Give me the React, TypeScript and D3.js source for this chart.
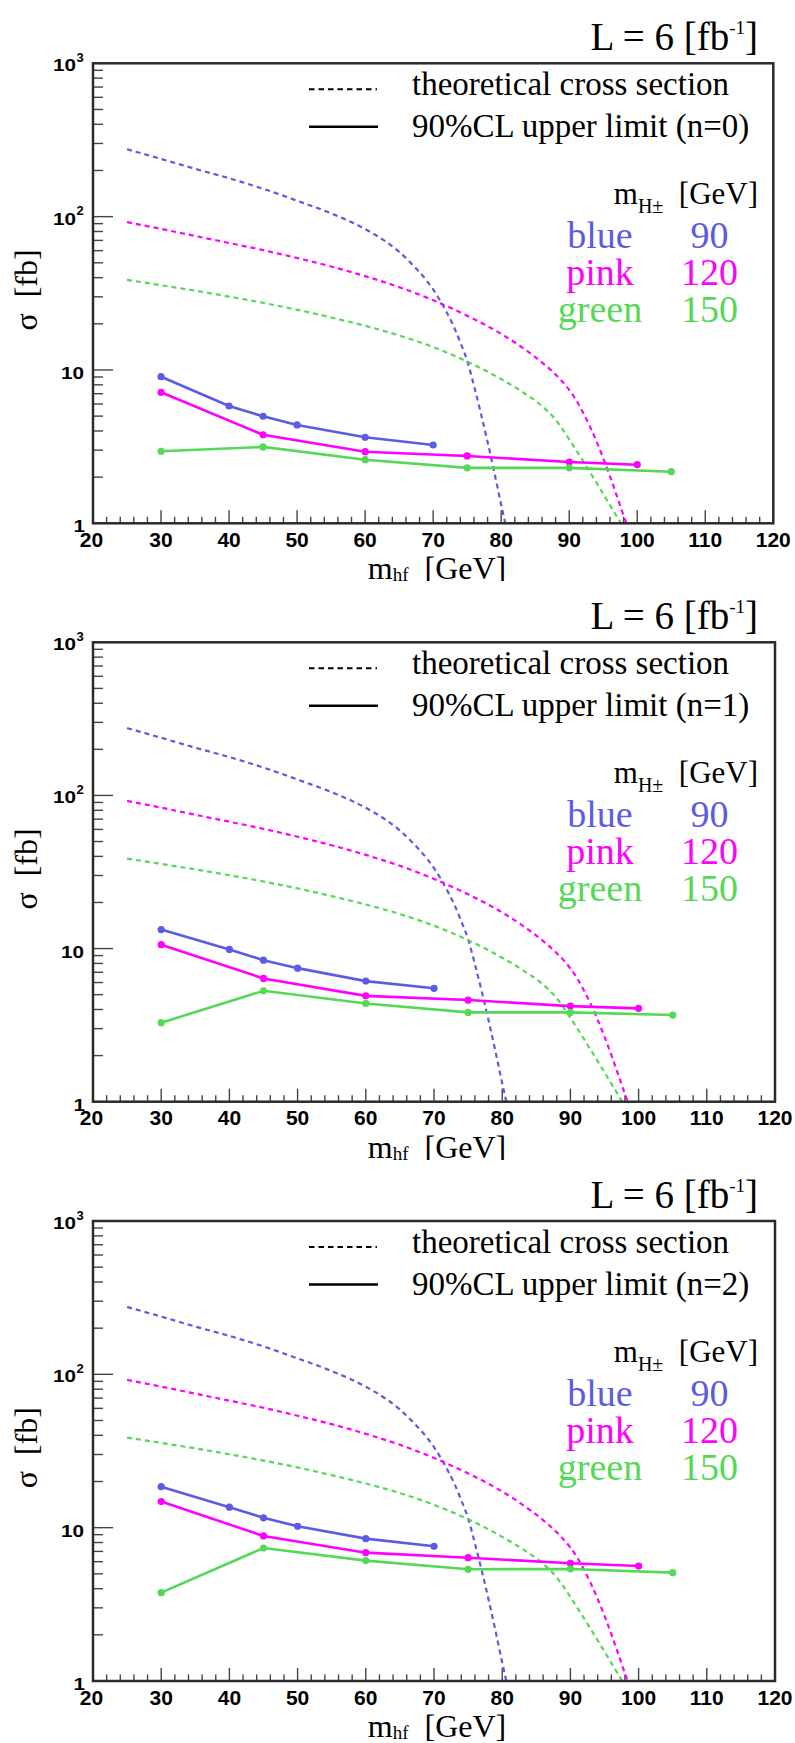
import React from 'react';
import * as d3 from 'd3';

// ---------- data ----------
const panelLabels = ['n=0', 'n=1', 'n=2'];
const xTickValues = [20, 30, 40, 50, 60, 70, 80, 90, 100, 110, 120];

// theoretical cross sections (same in every panel)
const blueTheoryMass = [25, 30, 35, 40, 45, 50, 55, 60, 63, 65, 67, 69, 70, 71, 72, 73, 74, 75, 76, 77, 78, 79, 80, 80.6, 81.2];
const blueTheoryXsec = [275, 238, 205, 178, 152, 127, 105, 83, 69, 59, 48.4, 38.5, 33.5, 28.5, 23.7, 19.3, 15.1, 11.5, 7.9, 5.25, 3.4, 2.14, 1.32, 1.0, 0.75];
const pinkTheoryMass = [25, 30, 35, 40, 45, 50, 55, 60, 65, 70, 75, 80, 83, 86, 88, 90, 91, 92, 93, 94, 95, 96, 97, 98, 98.4, 99];
const pinkTheoryXsec = [92, 83.2, 74.8, 67.3, 60.5, 53.7, 47.3, 40.9, 34.7, 28.5, 22.6, 17.2, 14.1, 11.2, 9.33, 7.41, 6.38, 5.31, 4.32, 3.43, 2.66, 2.02, 1.51, 1.12, 1.0, 0.83];
const greenTheoryMass = [25, 30, 35, 40, 45, 50, 55, 60, 65, 70, 75, 80, 83, 86, 88, 89, 90, 92, 94, 96, 97.6, 98.2];
const greenTheoryXsec = [38.7, 35.7, 32.9, 30.1, 27.4, 24.7, 22.0, 19.4, 16.8, 14.1, 11.35, 8.71, 7.24, 5.82, 4.73, 4.12, 3.53, 2.56, 1.84, 1.31, 1.0, 0.9];

// 90%CL upper limits
const blueLimitMass = [30, 40, 45, 50, 60, 70];
const pinkLimitMass = [30, 45, 60, 75, 90, 100];
const greenLimitMass = [30, 45, 60, 75, 90, 105];

const blueLimitN0 = [9.04, 5.82, 4.99, 4.38, 3.64, 3.24];
const pinkLimitN0 = [7.15, 3.78, 2.93, 2.75, 2.51, 2.41];
const greenLimitN0 = [2.95, 3.15, 2.6, 2.3, 2.3, 2.17];

const blueLimitN1 = [13.3, 9.87, 8.4, 7.45, 6.13, 5.5];
const pinkLimitN1 = [10.6, 6.38, 4.91, 4.61, 4.21, 4.07];
const greenLimitN1 = [3.28, 5.3, 4.38, 3.83, 3.83, 3.68];

const blueLimitN2 = [18.5, 13.6, 11.6, 10.2, 8.48, 7.56];
const pinkLimitN2 = [14.8, 8.83, 6.87, 6.37, 5.86, 5.62];
const greenLimitN2 = [3.77, 7.37, 6.1, 5.35, 5.38, 5.09];

const colorNames = ['blue', 'pink', 'green'];
const chargedHiggsMasses = ['90', '120', '150'];

// ---------- styling / layout ----------
const BLUE = '#5b5be3';
const PINK = '#ff00ff';
const GREEN = '#55d855';
const seriesColors = [BLUE, PINK, GREEN];
const serif = "'Liberation Serif', 'Times New Roman', serif";
const sans = "'Liberation Sans', Arial, Helvetica, sans-serif";

const W = 795;
const H = 1743;
const regionTops = [0, 581, 1162];
const regionHeights = [581, 579, 581];
const panelTops = [63.3, 642.3, 1221];
const panelBottoms = [523.3, 1101.7, 1681];
const panelRights = [773.3, 775, 775];
const panelLeft = 93;

const theoryMass = [blueTheoryMass, pinkTheoryMass, greenTheoryMass];
const theoryXsec = [blueTheoryXsec, pinkTheoryXsec, greenTheoryXsec];
const limitMass = [blueLimitMass, pinkLimitMass, greenLimitMass];
const limits = [
  [blueLimitN0, pinkLimitN0, greenLimitN0],
  [blueLimitN1, pinkLimitN1, greenLimitN1],
  [blueLimitN2, pinkLimitN2, greenLimitN2],
];

function Panel({ idx }: { idx: number }) {
  const top = panelTops[idx];
  const bottom = panelBottoms[idx];
  const right = panelRights[idx];
  const x = d3.scaleLinear().domain([20, 120]).range([panelLeft, right]);
  const y = d3.scaleLog().domain([1, 1000]).range([bottom, top]);
  const clipId = `plotclip${idx}`;
  const regionClip = `regionclip${idx}`;

  const line = d3
    .line<[number, number]>()
    .x((d) => x(d[0]))
    .y((d) => y(d[1]));
  const smooth = d3
    .line<[number, number]>()
    .x((d) => x(d[0]))
    .y((d) => y(d[1]))
    .curve(d3.curveMonotoneX);

  const yTicks = y.ticks();
  const xMinor = d3.range(20, 121, 2);

  const yLabel = (v: number) => {
    const ty = y(v);
    if (v === 1000 || v === 100) {
      return (
        <g key={v}>
          <text x={76} y={ty + 8} textAnchor="end" fontFamily={sans} fontWeight="bold" fontSize={17} textLength={23} lengthAdjust="spacingAndGlyphs">10</text>
          <text x={76.5} y={ty - 1.5} textAnchor="start" fontFamily={sans} fontWeight="bold" fontSize={13}>{v === 1000 ? '3' : '2'}</text>
        </g>
      );
    }
    if (v === 10) {
      return (
        <text key={v} x={84} y={ty + 9} textAnchor="end" fontFamily={sans} fontWeight="bold" fontSize={17} textLength={23} lengthAdjust="spacingAndGlyphs">10</text>
      );
    }
    return (
      <text key={v} x={85} y={ty + 9} textAnchor="end" fontFamily={sans} fontWeight="bold" fontSize={17} textLength={11.5} lengthAdjust="spacingAndGlyphs">1</text>
    );
  };

  return (
    <g clipPath={`url(#${regionClip})`}>
      <defs>
        <clipPath id={clipId}>
          <rect x={panelLeft} y={top} width={right - panelLeft} height={bottom - top} />
        </clipPath>
        <clipPath id={regionClip}>
          <rect x={0} y={regionTops[idx]} width={W} height={regionHeights[idx]} />
        </clipPath>
      </defs>

      {/* luminosity title */}
      <text x={758} y={top - 13} textAnchor="end" fontFamily={serif} fontSize={39} fill="#000">
        L = 6 [fb
        <tspan fontSize={19} dy={-16}>-1</tspan>
        <tspan dy={16}>]</tspan>
      </text>

      {/* y ticks */}
      {yTicks.map((v) => {
        const major = Math.abs(Math.log10(v) - Math.round(Math.log10(v))) < 1e-9;
        return (
          <line key={`yt${v}`} x1={panelLeft} x2={panelLeft + (major ? 20 : 10)} y1={y(v)} y2={y(v)} stroke="#444" strokeWidth={1.4} />
        );
      })}
      {/* x ticks */}
      {xMinor.map((v) => {
        const major = v % 10 === 0;
        return (
          <line key={`xt${v}`} x1={x(v)} x2={x(v)} y1={bottom} y2={bottom - (major ? 13 : 6.5)} stroke="#444" strokeWidth={1.4} />
        );
      })}

      {/* theory curves */}
      <g clipPath={`url(#${clipId})`}>
        {theoryMass.map((ms, s) => (
          <path
            key={`th${s}`}
            d={smooth(ms.map((m, k) => [m, theoryXsec[s][k]] as [number, number])) || ''}
            fill="none"
            stroke={seriesColors[s]}
            strokeWidth={2.2}
            strokeDasharray="5,4"
          />
        ))}
      </g>

      {/* limit curves */}
      {limitMass.map((ms, s) => {
        const pts = ms.map((m, k) => [m, limits[idx][s][k]] as [number, number]);
        return (
          <g key={`lim${s}`}>
            <path d={line(pts) || ''} fill="none" stroke={seriesColors[s]} strokeWidth={2.6} />
            {pts.map((p, k) => (
              <circle key={k} cx={x(p[0])} cy={y(p[1])} r={3.6} fill={seriesColors[s]} />
            ))}
          </g>
        );
      })}

      {/* frame */}
      <rect x={panelLeft} y={top} width={right - panelLeft} height={bottom - top} fill="none" stroke="#2a2a2a" strokeWidth={2.5} />

      {/* legend */}
      <line x1={309} x2={377} y1={top + 26} y2={top + 26} stroke="#000" strokeWidth={2} strokeDasharray="5.5,4" />
      <line x1={309} x2={378} y1={top + 63.5} y2={top + 63.5} stroke="#000" strokeWidth={2.6} />
      <text x={412} y={top + 31.5} fontFamily={serif} fontSize={33}>theoretical cross section</text>
      <text x={412} y={top + 74} fontFamily={serif} fontSize={33}>{`90%CL upper limit (${panelLabels[idx]})`}</text>

      <text x={758} y={top + 140.5} textAnchor="end" fontFamily={serif} fontSize={31}>
        m
        <tspan fontSize={20} dy={9}>H±</tspan>
        <tspan dy={-9}>{'\u00a0\u00a0[GeV]'}</tspan>
      </text>
      {colorNames.map((c, s) => (
        <g key={`lg${s}`}>
          <text x={600} y={top + 184.5 + s * 37.2} textAnchor="middle" fontFamily={serif} fontSize={38} fill={seriesColors[s]}>{c}</text>
          <text x={709.5} y={top + 184.5 + s * 37.2} textAnchor="middle" fontFamily={serif} fontSize={38} fill={seriesColors[s]}>{chargedHiggsMasses[s]}</text>
        </g>
      ))}

      {/* tick labels */}
      {xTickValues.map((v) => (
        <text key={`xl${v}`} x={v === 20 ? x(v) - 1.5 : x(v)} y={bottom + 23.5} textAnchor="middle" fontFamily={sans} fontWeight="bold" fontSize={21}>{v}</text>
      ))}
      {[1000, 100, 10, 1].map((v) => yLabel(v))}

      {/* axis titles */}
      <text transform={`translate(37, ${top + 226.7}) rotate(-90)`} textAnchor="middle" fontFamily={serif} fontSize={32}>
        {'σ\u00a0\u00a0[fb]'}
      </text>
      <text x={437} y={bottom + 56} textAnchor="middle" fontFamily={serif} fontSize={32}>
        m
        <tspan fontSize={19} dy={2}>hf</tspan>
        <tspan dy={-2}>{'\u00a0\u00a0[GeV]'}</tspan>
      </text>
    </g>
  );
}

export default function App() {
  return (
    <svg
      width={W}
      height={H}
      viewBox={`0 0 ${W} ${H}`}
      style={{ position: 'absolute', left: 0, top: 0, background: '#fff' }}
    >
      <rect x={0} y={0} width={W} height={H} fill="#fff" />
      {[0, 1, 2].map((i) => (
        <Panel key={i} idx={i} />
      ))}
    </svg>
  );
}
